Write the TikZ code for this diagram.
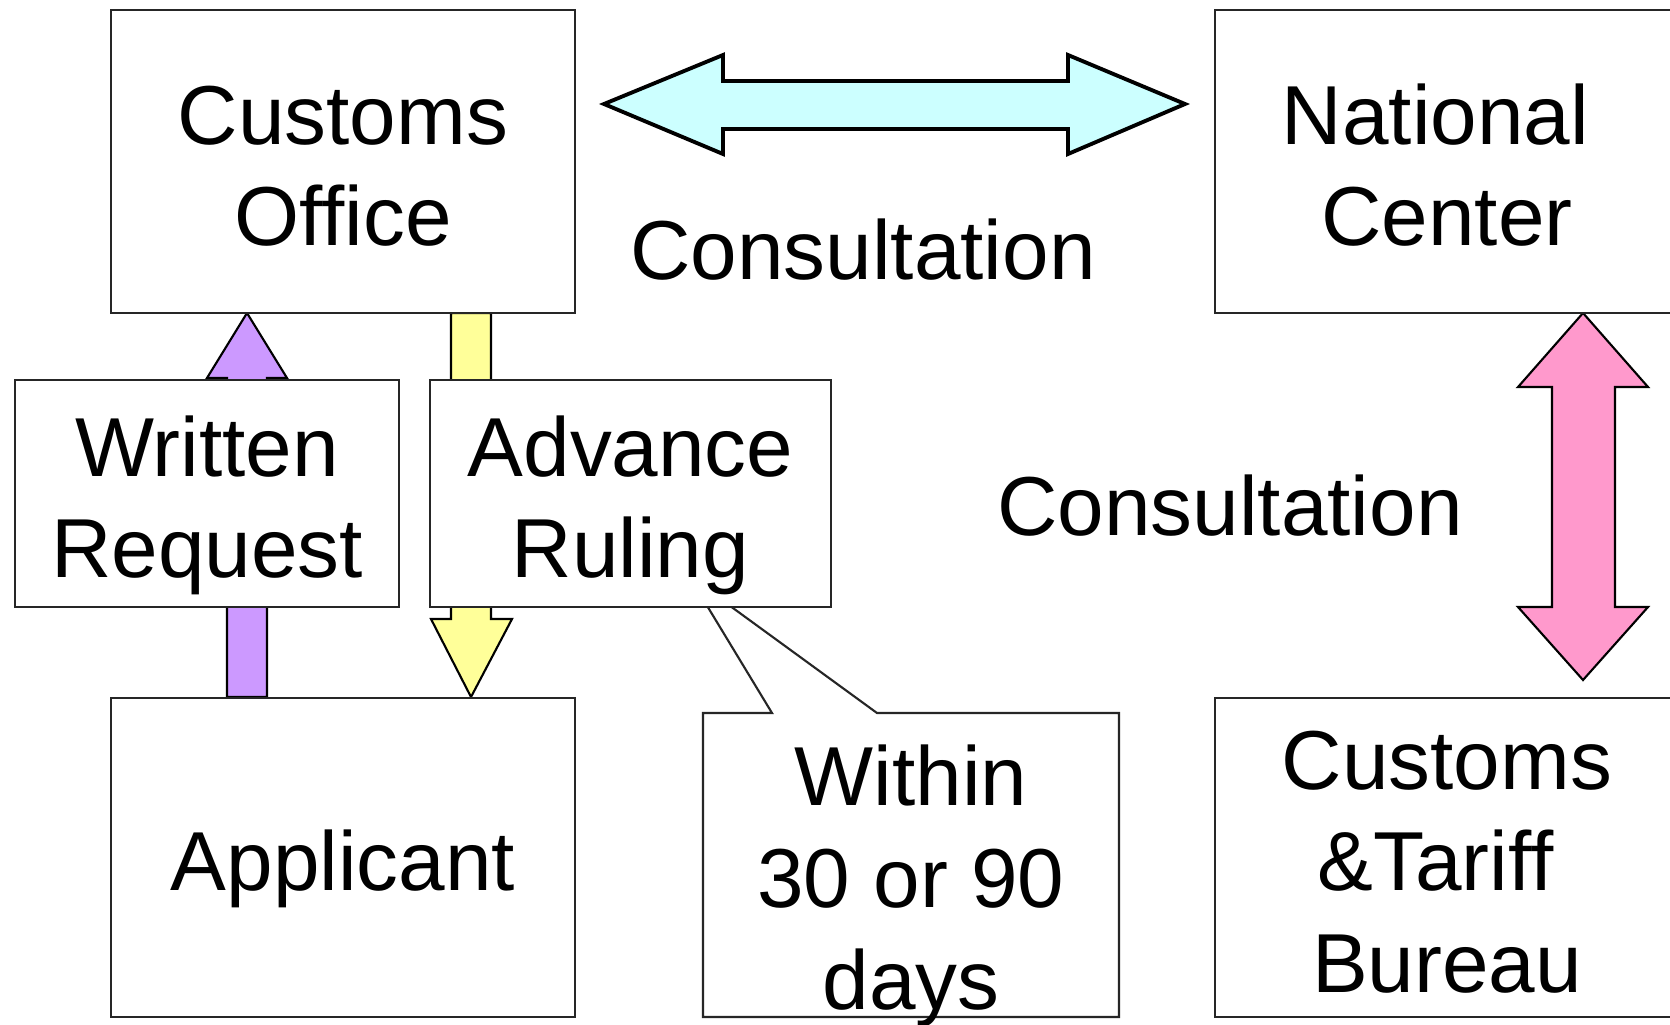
\documentclass[tikz,border=0pt]{standalone}
\usepackage{fontspec}
\setmainfont{Liberation Sans}
\usepackage{tikz}
\definecolor{cyanfill}{HTML}{CCFFFF}
\definecolor{pinkfill}{HTML}{FF99CC}
\definecolor{purplefill}{HTML}{CC99FF}
\definecolor{yellowfill}{HTML}{FFFF99}
\newcommand{\linestrut}{\rule[-0.22em]{0pt}{1.24em}}
\newcommand{\tailspace}{\kern0.278em}

\begin{document}
\begin{tikzpicture}[x=0.01cm, y=-0.01cm,
  txt/.style={inner sep=0pt, align=center, font=\fontsize{23.8}{28.9}\selectfont,
    execute at end node=\linestrut},
  box/.style={txt, draw=black!85, line width=0.6pt, fill=white},
  blockarrow/.style={draw=black, line width=0.6pt, line join=miter}]
\useasboundingbox (0,0) rectangle (1670,1024);
\fill[white] (0,0) rectangle (1670,1024);
\draw[blockarrow, fill=cyanfill, line width=1.1pt] (604,104) -- (723,55) -- (723,81) -- (1068,81) -- (1068,55) -- (1185,104)
  -- (1068,154) -- (1068,129) -- (723,129) -- (723,154) -- cycle;
\draw[blockarrow, fill=pinkfill] (1583,313) -- (1648,387) -- (1615,387) -- (1615,607) -- (1648,607) -- (1583,680)
  -- (1518,607) -- (1552,607) -- (1552,387) -- (1518,387) -- cycle;
\draw[blockarrow, fill=purplefill] (247,313) -- (287,378) -- (267,378) -- (267,697) -- (227,697) -- (227,378) -- (207,378) -- cycle;
\draw[blockarrow, fill=yellowfill] (451,313) -- (491,313) -- (491,619) -- (512,619) -- (471,697) -- (431,619) -- (451,619) -- cycle;
\draw[draw=black!85, line width=0.6pt, fill=white] (703,1017) -- (703,713) -- (772,713) -- (689,576) -- (877,713) -- (1119,713)
  -- (1119,1017) -- cycle;
\node[box, minimum width=4.64cm, minimum height=3.03cm] (office) at (343,161.5) {\linestrut Customs\\Office};
\node[box, minimum width=4.64cm, minimum height=3.03cm] (national) at (1447,161.5) {\linestrut National\tailspace\\Center};
\node[box, minimum width=3.84cm, minimum height=2.27cm] (request) at (207,493.5) {\linestrut Written\\Request};
\node[box, minimum width=4.01cm, minimum height=2.27cm] (ruling) at (630.5,493.5) {\linestrut Advance\\Ruling};
\node[box, minimum width=4.64cm, minimum height=3.19cm] (applicant) at (343,857.5) {Applicant};
\node[box, minimum width=4.64cm, minimum height=3.19cm] (bureau) at (1447,857.5) {\linestrut Customs\\\&Tariff\tailspace\\Bureau};
\node[txt] (within) at (911,874) {\linestrut Within\\30 or 90\\days};
\node[txt, anchor=base] (consultA) at (863,279) {Consultation};
\node[txt, anchor=base] (consultB) at (1230,535) {Consultation};
\end{tikzpicture}
\end{document}
